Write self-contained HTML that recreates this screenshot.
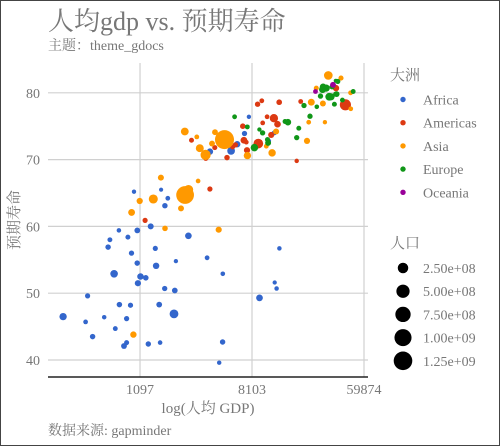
<!DOCTYPE html>
<html><head><meta charset="utf-8"><style>
html,body{margin:0;padding:0;background:#fff}
svg{display:block}
text{font-family:"Liberation Serif","Noto Serif CJK SC","Noto Sans CJK SC",serif;fill:#777}
</style></head><body>
<svg id="chart" width="500" height="446" viewBox="0 0 500 446" xmlns="http://www.w3.org/2000/svg">
<rect x="0.5" y="0.5" width="499" height="445" fill="#fff" stroke="#444" stroke-width="1"/>
<text x="48" y="30" font-size="26">人均gdp vs. 预期寿命</text>
<text x="48" y="50" font-size="14">主题：theme_gdocs</text>
<g id="grid"></g>
<g id="points"></g>
<line x1="48" y1="377" x2="368" y2="377" stroke="#222" stroke-width="1.5"/>
<text x="208" y="413" font-size="15" text-anchor="middle">log(人均 GDP)</text>
<text transform="translate(19,220) rotate(-90)" font-size="15" text-anchor="middle">预期寿命</text>
<text x="48" y="435" font-size="14">数据来源: gapminder</text>
<g id="legend"></g>
</svg>
<script>
const continentNames=["Africa","Americas","Asia","Europe","Oceania"];
const continentColors=["#3366cc","#dc3912","#ff9900","#109618","#990099"];
const xTicks=[1097,8103,59874];
const yTicks=[40,50,60,70,80];
const popBreaks=[2.5e8,5e8,7.5e8,1e9,1.25e9];
const popLabels=["2.50e+08","5.00e+08","7.50e+08","1.00e+09","1.25e+09"];
// continent index per country
const continent=[
0,0,0,0,0,0,0,0,0,0,0,0,0,0,0,0,0,0,0,0,0,0,0,0,0,0,0,0,0,0,0,0,0,0,0,0,0,0,0,0,0,0,0,0,0,0,0,0,0,0,0,0,
1,1,1,1,1,1,1,1,1,1,1,1,1,1,1,1,1,1,1,1,1,1,1,1,1,
2,2,2,2,2,2,2,2,2,2,2,2,2,2,2,2,2,2,2,2,2,2,2,2,2,2,2,2,2,2,2,2,2,
3,3,3,3,3,3,3,3,3,3,3,3,3,3,3,3,3,3,3,3,3,3,3,3,3,3,3,3,3,3,
4,4];
const lifeExp=[
72.3,42.7,56.7,50.7,52.3,49.6,50.4,44.7,50.7,65.2,46.5,55.3,48.3,54.8,71.3,51.6,58.0,52.9,56.7,59.4,60.0,56.0,46.4,54.1,42.6,45.7,74.0,59.4,48.3,54.5,64.2,72.8,71.2,42.1,52.9,56.9,46.9,76.4,46.2,65.5,63.1,42.6,48.2,49.3,58.6,39.6,52.5,58.4,73.9,51.5,42.4,43.5,
75.3,65.6,72.4,80.7,78.6,72.9,78.8,78.3,72.2,75.0,71.9,70.3,60.9,70.2,72.6,76.2,72.9,75.5,71.8,71.4,78.7,69.8,78.2,76.4,73.7,
43.8,75.6,64.1,59.7,73.0,82.2,64.7,70.7,71.0,59.5,80.7,82.6,72.5,67.3,78.6,77.6,72.0,74.2,66.8,62.1,63.8,75.6,65.5,71.7,72.8,80.0,72.4,74.1,78.4,70.6,74.2,73.4,62.7,
76.4,79.8,79.4,74.9,73.0,75.7,76.5,78.3,79.3,80.7,79.4,79.5,73.3,81.8,78.9,80.5,74.5,79.8,80.2,75.6,78.1,72.5,74.0,74.7,77.9,80.9,80.9,81.7,71.8,79.4,
81.2,80.2];
const pop=[
33.3,12.4,8.1,1.6,14.3,8.4,17.7,4.4,10.2,0.7,64.6,3.8,18.0,0.5,80.3,0.55,4.9,76.5,1.45,1.7,22.9,9.9,1.5,35.6,2.0,3.2,6.0,19.2,13.3,12.0,3.3,1.25,33.8,20.0,2.1,12.9,135.0,0.8,8.9,0.2,12.3,6.1,9.1,44.0,42.3,1.1,38.1,5.7,10.3,29.2,11.7,12.3,
40.3,9.1,190.0,33.4,16.3,44.2,4.1,11.4,9.3,13.8,6.9,12.6,8.5,7.5,2.8,108.7,5.7,3.2,6.7,28.7,3.9,1.1,301.1,3.4,26.1,
31.9,0.7,150.4,14.1,1318.7,7.0,1110.4,223.5,69.5,27.5,6.4,127.5,6.1,23.3,49.0,2.5,3.9,24.8,2.9,47.8,28.9,3.2,169.3,91.1,27.6,4.6,20.4,19.3,23.2,65.1,85.3,4.0,22.2,
3.6,8.2,10.4,4.6,7.3,4.5,10.2,5.5,5.2,61.1,82.4,10.7,10.0,0.3,4.1,58.1,0.7,16.6,4.6,38.5,10.6,22.3,10.2,5.4,2.0,40.4,9.0,7.6,71.2,60.8,
20.4,4.1];
const gdp=[
6223,4797,1441,12570,1217,430,2042,706,1704,986,278,3633,1545,2082,5581,12154,641,691,13206,753,1328,943,579,1463,1569,415,12057,1045,759,1043,1803,10957,3820,824,4811,620,2014,7670,863,1598,1712,863,926,9270,2602,4513,1107,883,7093,1056,1271,470,
12779,3822,9066,36319,13172,7007,9645,8948,6025,6873,5728,5186,1202,3548,7321,11978,2749,9809,4173,7409,19329,18009,42952,10611,11416,
975,29796,1391,1714,4959,39725,2452,3541,11606,4471,25523,31656,4519,1593,23348,47307,10461,12452,3096,944,1091,22316,2606,3190,21655,47143,3970,4185,28718,7458,2442,3025,2281,
5937,36126,33693,7446,10681,14619,22833,35278,33207,30470,32170,27538,18009,36181,40676,28570,9254,36798,49357,15390,20510,10808,9787,18678,25768,28821,33860,37506,8458,33203,
34435,25185];

const NS="http://www.w3.org/2000/svg";
const X0=48,X1=368;
function xScale(g){return 140+(Math.log(g)-7)*56;}
function yScale(v){return 360-(v-40)*6.68;}
function rScale(p){return 2+7.5*Math.sqrt(p/1318.7e6);}
function mk(tag,attrs,parent){const e=document.createElementNS(NS,tag);for(const k in attrs)e.setAttribute(k,attrs[k]);parent.appendChild(e);return e;}
const grid=document.getElementById('grid');
yTicks.forEach(v=>{
  const y=yScale(v);
  const l=mk('line',{x1:X0,x2:X1,y1:y,y2:y,stroke:'#d0d0d0','stroke-width':1.2},grid);
  
  
  const t=mk('text',{x:40,y:y+5,'font-size':14,'text-anchor':'end'},grid);
  t.textContent=v;
  
  
});
xTicks.forEach(v=>{
  const x=xScale(v);
  const l=mk('line',{x1:x,x2:x,y1:63,y2:377,stroke:'#d0d0d0','stroke-width':1.2},grid);
  
  
  const t=mk('text',{x:x,y:394,'font-size':14,'text-anchor':'middle'},grid);
  t.textContent=v;
  
  
});
const pts=document.getElementById('points');
for(let i=0;i<gdp.length;i++){
  const c=mk('circle',{cx:xScale(gdp[i]).toFixed(1),cy:yScale(lifeExp[i]).toFixed(1),r:rScale(pop[i]*1e6).toFixed(2),fill:continentColors[continent[i]]},pts);
  
  
}
const lg=document.getElementById('legend');
const t1=mk('text',{x:390,y:80,'font-size':15},lg);t1.textContent='大洲';


continentNames.forEach((n,i)=>{
  const y=99.5+i*23.2;
  const d=mk('circle',{cx:403,cy:y,r:2.7,fill:continentColors[i]},lg);
  
  
  const t=mk('text',{x:423,y:y+5,'font-size':14},lg);t.textContent=n;
  
  
});
const t2=mk('text',{x:390,y:248,'font-size':15},lg);t2.textContent='人口';


popBreaks.forEach((p,i)=>{
  const y=268+i*23.2;
  const d=mk('circle',{cx:403,cy:y,r:rScale(p),fill:'#000'},lg);
  
  
  const t=mk('text',{x:423,y:y+5,'font-size':14},lg);t.textContent=popLabels[i];
  
  
});
</script>
</body></html>
